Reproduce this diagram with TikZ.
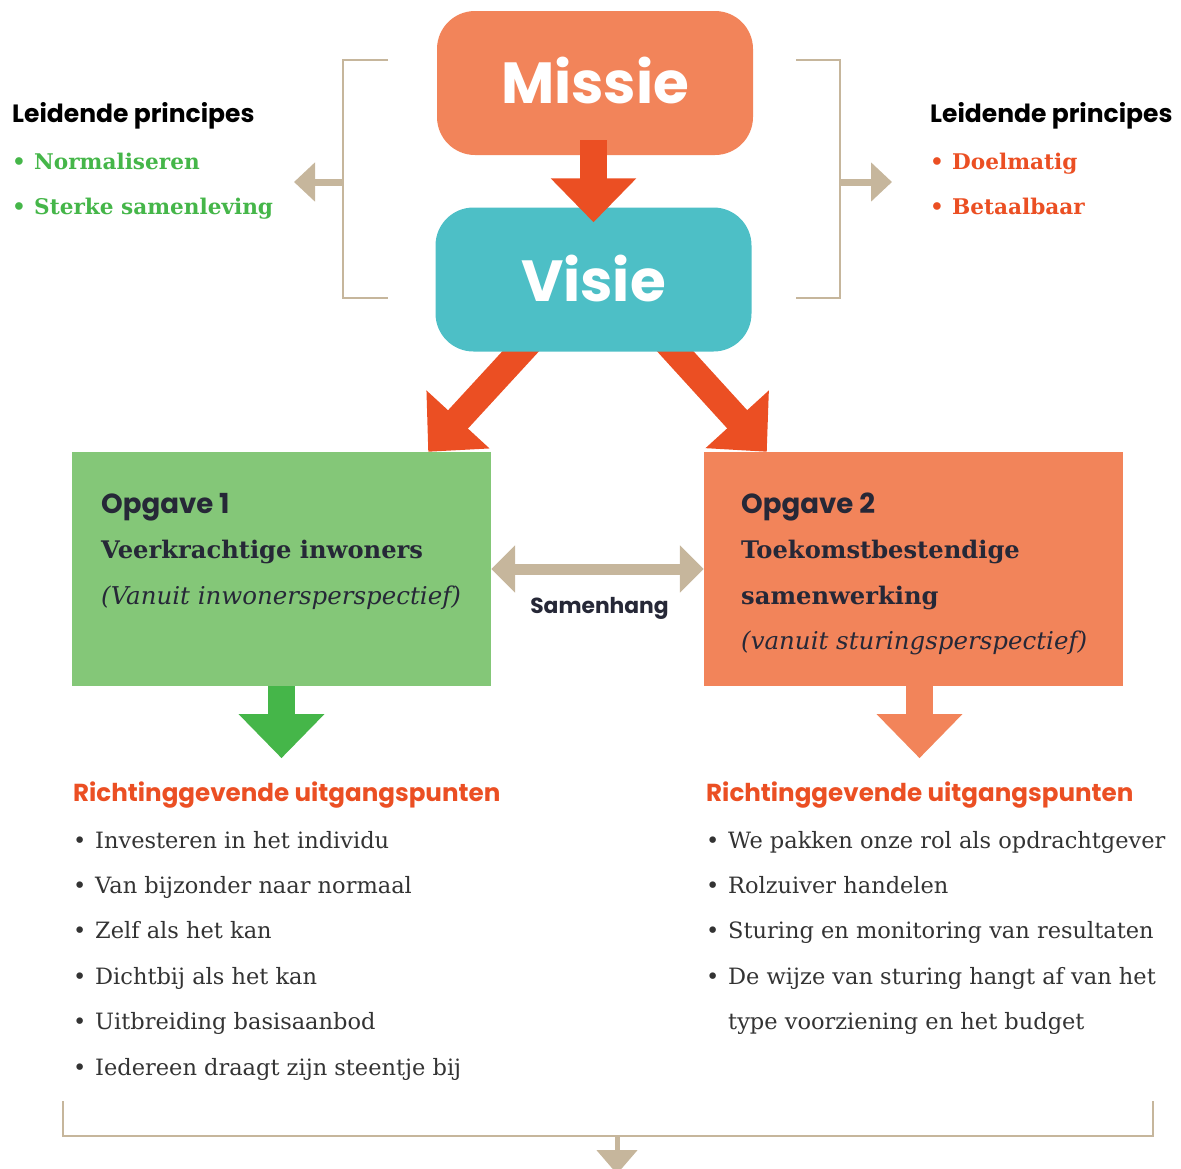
\documentclass[tikz,border=0pt]{standalone}
\usepackage{fontspec}
\setmainfont{DejaVu Serif}
\newfontfamily\headfont{Poppins}
\usetikzlibrary{arrows.meta, positioning, calc}

\definecolor{missieoranje}{HTML}{F2845A}
\definecolor{visieblauw}{HTML}{4DBFC6}
\definecolor{pijlrood}{HTML}{EB4F23}
\definecolor{opgavegroen}{HTML}{84C778}
\definecolor{pijlgroen}{HTML}{45B649}
\definecolor{beige}{HTML}{C6B69C}
\definecolor{donker}{HTML}{262837}
\definecolor{tekstgrijs}{HTML}{333333}

\pgfdeclarelayer{achter}
\pgfsetlayers{achter,main}

\newcommand{\bolletje}{\makebox[22pt][l]{\textbullet}}

\tikzset{
    hoofdbox/.style={rounded corners=38pt, minimum width=316pt, minimum height=144pt,
        text=white, font=\headfont\bfseries\fontsize{58}{70}\selectfont},
    opgavebox/.style={minimum width=419pt, minimum height=234pt, inner sep=0pt},
    dikpijl/.style={line width=27pt, -{Triangle[length=44pt,width=83pt]}},
    haak/.style={beige, line width=2.5pt},
    haakpijl/.style={beige, line width=7pt, -{Triangle[length=21pt,width=38pt]}},
    kop/.style={anchor=base west, inner sep=0pt, font=\headfont\bfseries\fontsize{25}{28}\selectfont},
    principe/.style={anchor=base west, inner sep=0pt, font=\bfseries\fontsize{21.6}{24}\selectfont},
    titel/.style={anchor=base west, inner sep=0pt, text=donker, font=\bfseries\fontsize{24.2}{26}\selectfont},
    ondertitel/.style={titel, font=\itshape\fontsize{24.5}{26}\selectfont},
    opgavekop/.style={titel, font=\headfont\bfseries\fontsize{27.6}{30}\selectfont},
    item/.style={anchor=base west, inner sep=0pt, text=tekstgrijs, font=\fontsize{22.5}{24}\selectfont},
}

\begin{document}
\begin{tikzpicture}[x=1pt, y=-1pt]
    \useasboundingbox (0,0) rectangle (1181,1168);

    % missie en visie
    \node[hoofdbox, fill=missieoranje] (missie) at (595,83) {\raisebox{5.5pt}{Missie}};
    \node[hoofdbox, fill=visieblauw] (visie) at (593.5,279.5) {\raisebox{2.5pt}{Visie}};
    \draw[dikpijl, pijlrood] ($(missie.south)+(-1.5,-15)$) -- ($(visie.north)+(0,15)$);

    % opgaven
    \node[opgavebox, fill=opgavegroen] (opg1) at (281.5,569) {};
    \node[opgavebox, fill=missieoranje] (opg2) at (913.5,569) {};
    \begin{pgfonlayer}{achter}
        \draw[dikpijl, pijlrood] ($(visie.south)+(-64,-10)$) -- ($(opg1.north east)+(-63,0)$);
        \draw[dikpijl, pijlrood] ($(visie.south)+(73,-10)$) -- ($(opg2.north west)+(63,0)$);
    \end{pgfonlayer}

    \node[opgavekop] (opg1a) at (101,513) {Opgave 1};
    \node[titel] (opg1b) at (101,558) {Veerkrachtige inwoners};
    \node[ondertitel] (opg1c) at (101,604) {(Vanuit inwonersperspectief)};
    \node[opgavekop] (opg2a) at (741,513) {Opgave 2};
    \node[titel] (opg2b) at (741,558) {Toekomstbestendige};
    \node[titel] (opg2c) at (741,604) {samenwerking};
    \node[ondertitel] (opg2d) at (741,649) {(vanuit sturingsperspectief)};

    % samenhang
    \draw[beige, line width=11pt, {Triangle[length=24pt,width=46pt]}-{Triangle[length=24pt,width=46pt]}] (opg1.east) -- (opg2.west);
    \node[anchor=base, inner sep=0pt, text=donker, font=\headfont\bfseries\fontsize{21.8}{26}\selectfont] (samenhang) at (599.5,613) {Samenhang};

    % leidende principes links
    \draw[haak] (388,60) -- (343,60) -- (343,298) -- (388,298);
    \coordinate (haakL) at (343,182);
    \coordinate (puntL) at (294,182);
    \draw[haakpijl] (haakL) -- (puntL);
    \node[kop, text=black] (kopL) at (12,122) {Leidende principes};
    \node[principe, text=pijlgroen] (normaal) at (12,169) {\bolletje Normaliseren};
    \node[principe, text=pijlgroen] (sterk) at (12,214) {\bolletje Sterke samenleving};

    % leidende principes rechts
    \draw[haak] (796,60) -- (840,60) -- (840,298) -- (796,298);
    \coordinate (haakR) at (840,182);
    \coordinate (puntR) at (892,182);
    \draw[haakpijl] (haakR) -- (puntR);
    \node[kop, text=black] (kopR) at (930,122) {Leidende principes};
    \node[principe, text=pijlrood] (doel) at (930,169) {\bolletje Doelmatig};
    \node[principe, text=pijlrood] (betaal) at (930,214) {\bolletje Betaalbaar};

    % uitgangspunten
    \draw[dikpijl, pijlgroen] (opg1.south) -- ++(0,72);
    \draw[dikpijl, missieoranje] ($(opg2.south)+(6,0)$) -- ++(0,72);
    \node[kop, text=pijlrood, font=\headfont\bfseries\fontsize{24.6}{28}\selectfont] (uitgL) at (73,801) {Richtinggevende uitgangspunten};
    \node[kop, text=pijlrood, font=\headfont\bfseries\fontsize{24.6}{28}\selectfont] (uitgR) at (706,801) {Richtinggevende uitgangspunten};

    \foreach \tekst [count=\i] in {Investeren in het individu, Van bijzonder naar normaal,
        Zelf als het kan, Dichtbij als het kan, Uitbreiding basisaanbod,
        Iedereen draagt zijn steentje bij}
        \node[item] (links\i) at (73,{848+45.4*(\i-1)}) {\bolletje\tekst};
    \foreach \tekst [count=\i] in {We pakken onze rol als opdrachtgever, Rolzuiver handelen,
        Sturing en monitoring van resultaten, De wijze van sturing hangt af van het}
        \node[item] (rechts\i) at (706,{848+45.4*(\i-1)}) {\bolletje\tekst};
    \node[item] (rechts5) at ($(rechts4.base west)+(22,45.4)$) {type voorziening en het budget};

    % onderste haak
    \draw[haak] (63,1101) -- (63,1136) -- (1153,1136) -- (1153,1101);
    \coordinate (haakO) at (617,1136);
    \draw[beige, line width=5pt, -{Triangle[length=24pt,width=40pt]}] (haakO) -- ++(0,38);
\end{tikzpicture}
\end{document}
